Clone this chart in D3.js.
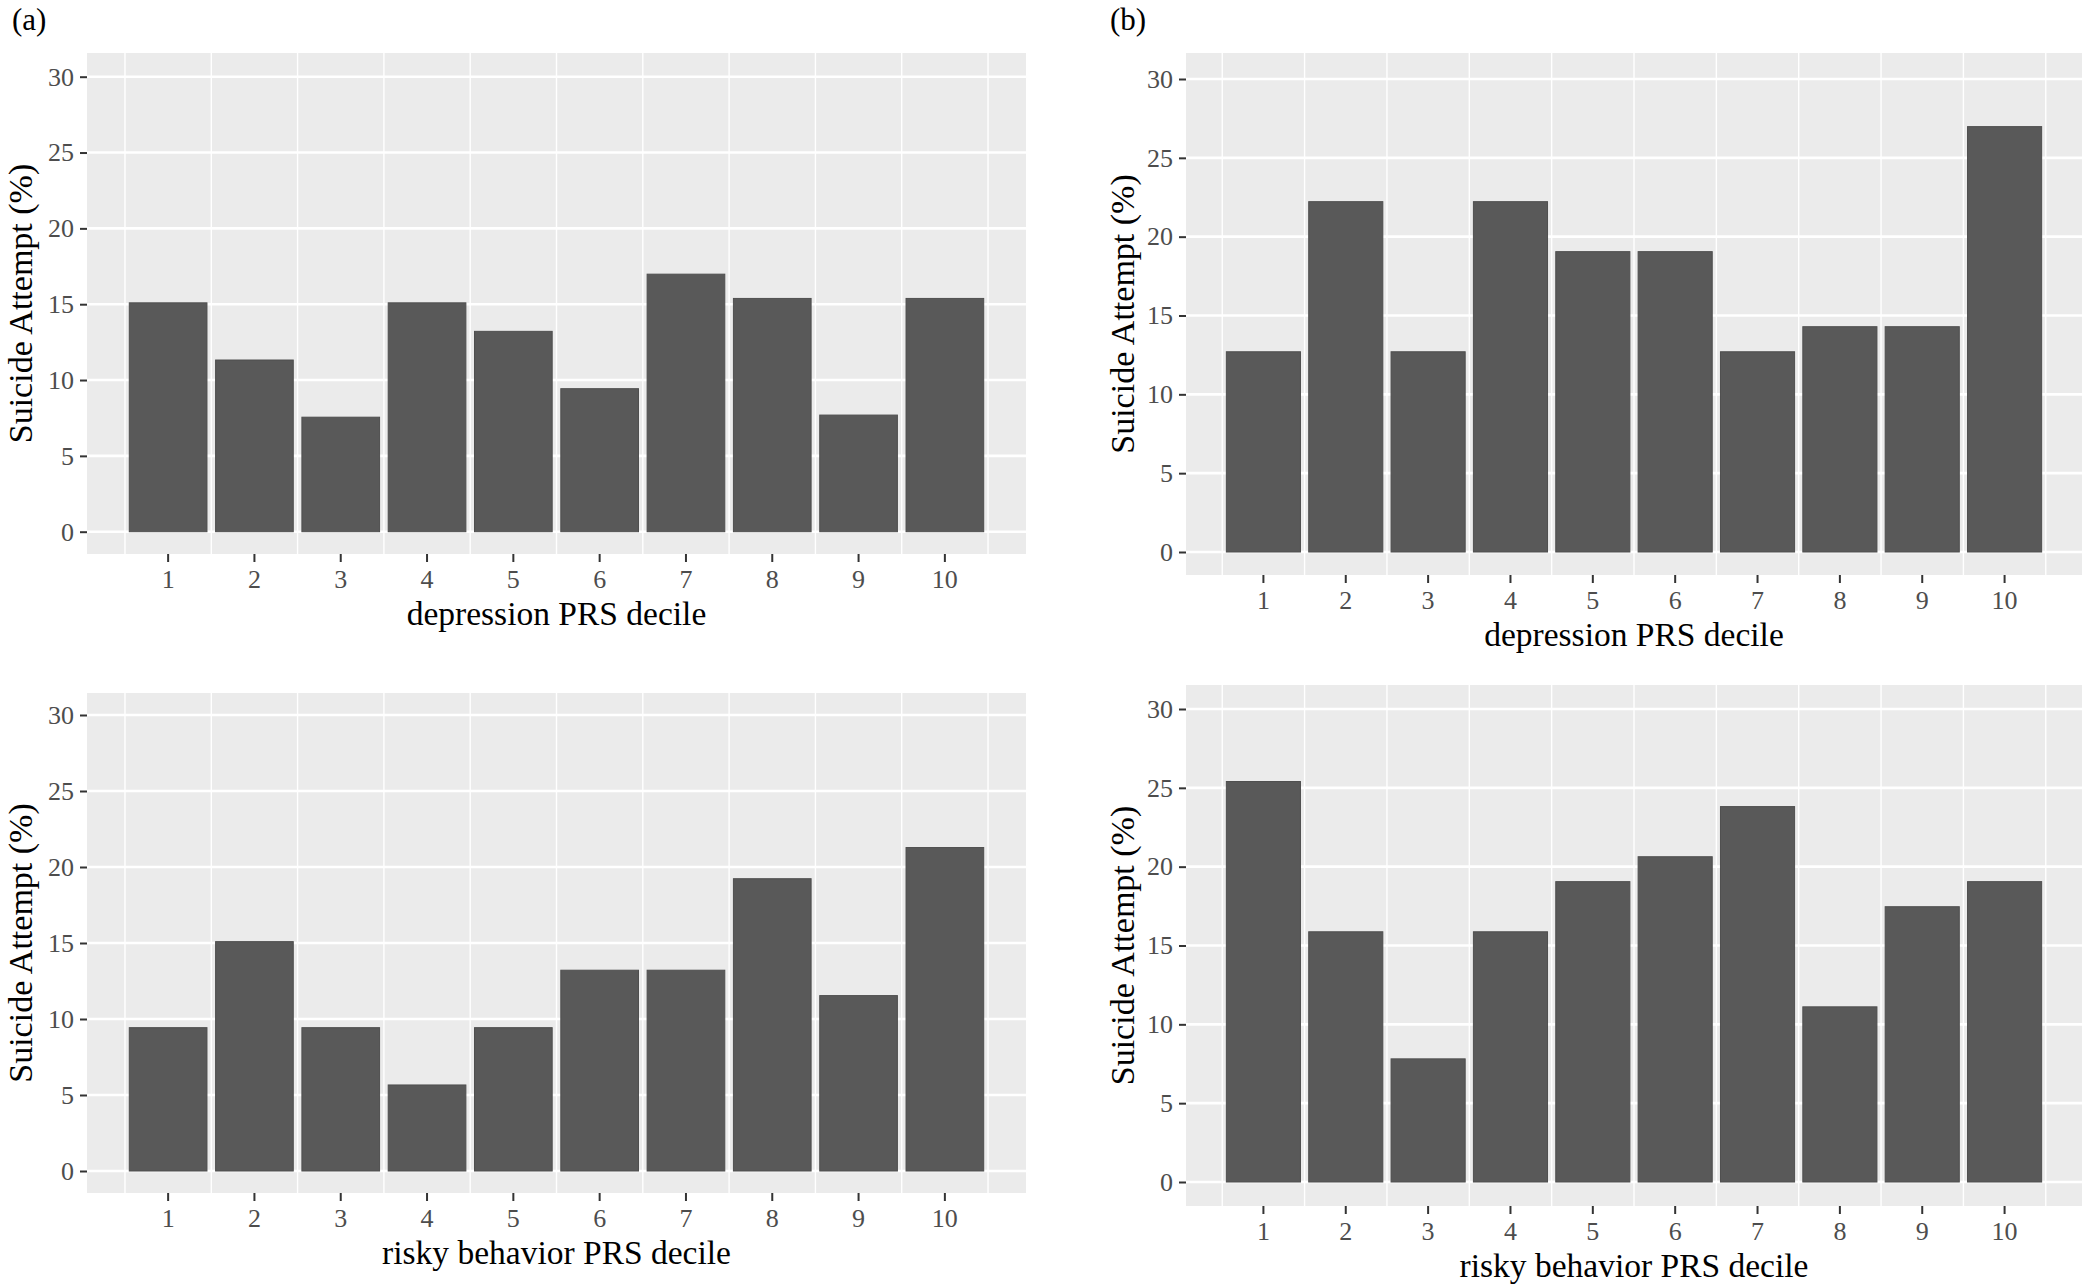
<!DOCTYPE html>
<html>
<head>
<meta charset="utf-8">
<script src="https://cdn.jsdelivr.net/npm/d3@7"></script>
<style>
  html, body { margin: 0; padding: 0; background: #ffffff; }
  svg { display: block; }
  text { font-family: "Liberation Serif", "Times New Roman", serif; }
</style>
</head>
<body>
<svg id="chart" width="2086" height="1288"></svg>
<script>
// ---- data ----
const deciles = [1, 2, 3, 4, 5, 6, 7, 8, 9, 10];
const depressionA = [15.09, 11.32, 7.55, 15.09, 13.21, 9.43, 16.98, 15.38, 7.69, 15.38];
const riskyA      = [9.43, 15.09, 9.43, 5.66, 9.43, 13.21, 13.21, 19.23, 11.54, 21.28];
const depressionB = [12.70, 22.22, 12.70, 22.22, 19.05, 19.05, 12.70, 14.29, 14.29, 26.98];
const riskyB      = [25.40, 15.87, 7.81, 15.87, 19.05, 20.63, 23.81, 11.11, 17.46, 19.05];
const yTicks = [0, 5, 10, 15, 20, 25, 30];
const yTitle = "Suicide Attempt (%)";
const xTitles = ["depression PRS decile", "risky behavior PRS decile"];
const panelLabels = ["(a)", "(b)"];

// ---- layout ----
const svg = d3.select("#chart");
const panels = [
  { values: depressionA, title: xTitles[0], x0: 87,   x1: 1026, y0: 53,  y1: 554,  y30: 76.7, yZero: 531.7, ytx: 20 },
  { values: riskyA,      title: xTitles[1], x0: 87,   x1: 1026, y0: 693, y1: 1193, y30: 715,  yZero: 1171,  ytx: 20 },
  { values: depressionB, title: xTitles[0], x0: 1186, x1: 2082, y0: 53,  y1: 575,  y30: 79,   yZero: 552,   ytx: 1122 },
  { values: riskyB,      title: xTitles[1], x0: 1186, x1: 2082, y0: 685, y1: 1206, y30: 709,  yZero: 1182,  ytx: 1122 }
];

svg.append("text").attr("x", 12).attr("y", 30).attr("font-size", 31).attr("fill", "#000").text(panelLabels[0]);
svg.append("text").attr("x", 1110).attr("y", 30).attr("font-size", 31).attr("fill", "#000").text(panelLabels[1]);

panels.forEach(p => {
  const x = d3.scaleBand().domain(deciles).range([p.x0, p.x1]).paddingInner(0.1).paddingOuter(0.49);
  const y = d3.scaleLinear().domain([0, 30]).range([p.yZero, p.y30]);
  const step = x.step();
  const g = svg.append("g");

  // panel background
  g.append("rect").attr("x", p.x0).attr("y", p.y0)
    .attr("width", p.x1 - p.x0).attr("height", p.y1 - p.y0).attr("fill", "#ebebeb");

  // vertical grid lines (between deciles)
  const vlines = deciles.map(d => x(d) + x.bandwidth() / 2 - step / 2)
    .concat([x(deciles[deciles.length - 1]) + x.bandwidth() / 2 + step / 2]);
  g.selectAll(".vg").data(vlines).join("line")
    .attr("x1", d => d).attr("x2", d => d)
    .attr("y1", p.y0).attr("y2", p.y1)
    .attr("stroke", "#ffffff").attr("stroke-width", 1.4);

  // horizontal grid lines
  g.selectAll(".hg").data(yTicks).join("line")
    .attr("x1", p.x0).attr("x2", p.x1)
    .attr("y1", d => y(d)).attr("y2", d => y(d))
    .attr("stroke", "#ffffff").attr("stroke-width", 2.6);

  // bars
  g.selectAll(".bar").data(deciles).join("rect")
    .attr("x", d => x(d))
    .attr("width", x.bandwidth())
    .attr("y", (d, i) => y(p.values[i]))
    .attr("height", (d, i) => y(0) - y(p.values[i]))
    .attr("fill", "#595959")
    .attr("stroke", "#4f4f4f").attr("stroke-width", 1);

  // y axis
  const ya = g.append("g").attr("transform", `translate(${p.x0},0)`)
    .call(d3.axisLeft(y).tickValues(yTicks).tickSize(7).tickPadding(6));
  ya.select(".domain").remove();
  ya.selectAll(".tick line").attr("stroke", "#333333").attr("stroke-width", 2);
  ya.selectAll(".tick text").attr("fill", "#4d4d4d").attr("font-size", 26)
    .attr("font-family", "Liberation Serif, serif");

  // x axis
  const xa = g.append("g").attr("transform", `translate(0,${p.y1})`)
    .call(d3.axisBottom(x).tickSize(8).tickPadding(8));
  xa.select(".domain").remove();
  xa.selectAll(".tick line").attr("stroke", "#333333").attr("stroke-width", 2);
  xa.selectAll(".tick text").attr("fill", "#4d4d4d").attr("font-size", 26)
    .attr("font-family", "Liberation Serif, serif");

  // x title
  g.append("text").attr("x", (p.x0 + p.x1) / 2).attr("y", p.y1 + 71)
    .attr("text-anchor", "middle").attr("font-size", 33.5).attr("fill", "#000")
    .text(p.title);

  // y title
  g.append("text")
    .attr("transform", `translate(${p.ytx},${(p.y0 + p.y1) / 2}) rotate(-90)`)
    .attr("dy", "0.35em")
    .attr("text-anchor", "middle").attr("font-size", 34).attr("fill", "#000")
    .text(yTitle);
});
</script>
</body>
</html>
